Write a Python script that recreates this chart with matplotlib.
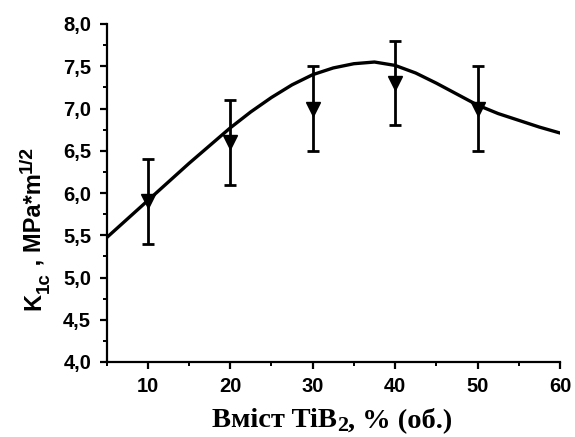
import numpy as np
import matplotlib
matplotlib.use("Agg")
import matplotlib.pyplot as plt
from matplotlib.ticker import MultipleLocator, FuncFormatter
from matplotlib.transforms import IdentityTransform

# measured points (TiB2 content, % vol.) with error bars
tib2 = [10, 20, 30, 40, 50]
k1c = [5.9, 6.6, 7.0, 7.3, 7.0]
k1c_err = [0.5, 0.5, 0.5, 0.5, 0.5]

# fitted curve
fit_x = [5, 7.5, 10, 12.5, 15, 17.5, 20, 22.5, 25, 27.5, 30, 32.5, 35,
         37.5, 40, 42.5, 45, 47.5, 50, 52.5, 55, 57.5, 60]
fit_y = [5.47, 5.69, 5.91, 6.13, 6.35, 6.56, 6.77, 6.96, 7.13, 7.28, 7.40,
         7.48, 7.53, 7.55, 7.51, 7.42, 7.30, 7.17, 7.04, 6.94, 6.86, 6.78, 6.71]

plt.rcParams["font.family"] = ["Liberation Sans", "DejaVu Sans"]

W, H = 575, 437
fig = plt.figure(figsize=(W / 100, H / 100), dpi=100)
ax = fig.add_axes([106.5 / W, 1 - 362 / H, (560 - 106.5) / W, (362 - 24) / H])

ax.errorbar(tib2, k1c, yerr=k1c_err, fmt="v", color="black", ms=10,
            elinewidth=2.0, capsize=4.5, capthick=2.0, zorder=2)
ax.plot(fit_x, fit_y, color="black", linewidth=2.4, zorder=3)

ax.set_xlim(5, 60)
ax.set_ylim(4.0, 8.0)
ax.xaxis.set_major_locator(MultipleLocator(10))
ax.xaxis.set_minor_locator(MultipleLocator(5))
ax.yaxis.set_major_locator(MultipleLocator(0.5))
ax.yaxis.set_minor_locator(MultipleLocator(0.25))
ax.yaxis.set_major_formatter(FuncFormatter(lambda v, p: f"{v:.1f}".replace(".", ",")))

for s in ["top", "right"]:
    ax.spines[s].set_visible(False)
for s in ["left", "bottom"]:
    ax.spines[s].set_linewidth(1.6)

ax.tick_params(which="major", direction="out", length=5, width=1.6,
               labelsize=14.5, pad=6)
ax.tick_params(axis="x", which="major", pad=6)
ax.tick_params(which="minor", direction="out", length=3, width=1.4)
for lab in ax.get_xticklabels() + ax.get_yticklabels():
    lab.set_fontweight("bold")

renderer = fig.canvas.get_renderer()


def chain(pieces, x0, y0, vertical, family):
    """Draw text pieces one after another; each piece: (text, size, shift px)."""
    pos = x0 if not vertical else y0
    for txt, size, shift in pieces:
        if vertical:
            t = fig.text(x0 + shift, pos, txt, rotation=90, rotation_mode="anchor",
                         ha="left", va="baseline", fontsize=size, fontweight="bold",
                         family=family, transform=IdentityTransform())
            pos = t.get_window_extent(renderer).y1
        else:
            t = fig.text(pos, y0 - shift, txt, ha="left", va="baseline",
                         fontsize=size, fontweight="bold", family=family,
                         transform=IdentityTransform())
            pos = t.get_window_extent(renderer).x1


# y label: K1c , MPa*m^1/2 (sub/superscripts almost full size)
chain([("K", 17, 0), ("1c", 13.5, 9), (" , MPa*m", 17, 0), ("1/2", 14, -8)],
      40, H - 310, True, "Liberation Sans")

# x label: Вміст TiB2, % (об.)
chain([("Вміст TiB", 20.5, 0), ("2", 16, 4), (", % (об.)", 20.5, 0)],
      212, H - 427, False, "Liberation Serif")

fig.savefig("out.png", dpi=100)
